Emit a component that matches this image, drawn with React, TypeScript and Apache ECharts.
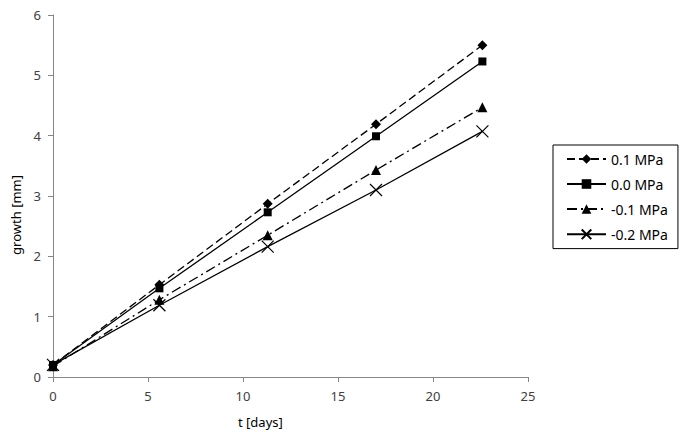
import React, { useEffect, useRef } from "react";
import * as echarts from "echarts";

const days = [0, 5.6, 11.3, 17.0, 22.6];
const seriesNames = ["0.1 MPa", "0.0 MPa", "-0.1 MPa", "-0.2 MPa"];
const growth01 = [0.2, 1.53, 2.87, 4.19, 5.5];
const growth00 = [0.2, 1.47, 2.73, 3.99, 5.23];
const growthM01 = [0.18, 1.28, 2.35, 3.43, 4.47];
const growthM02 = [0.2, 1.19, 2.16, 3.1, 4.07];

const FONT = "'Noto Sans', 'Open Sans', sans-serif";
const TXT = "#404040";
const AX = "#868686";

export default function App() {
  const ref = useRef<HTMLDivElement>(null);
  useEffect(() => {
    if (!ref.current) return;
    const chart = echarts.init(ref.current, null, { renderer: "svg" });
    const pair = (ys: number[]) => days.map((d, i) => [d, ys[i]]);
    const base = {
      type: "line",
      color: "#000",
      showSymbol: true,
      symbolKeepAspect: true,
    };
    chart.setOption({
      animation: false,
      backgroundColor: "#fff",
      textStyle: { fontFamily: FONT },
      grid: { left: 53, right: 157, top: 15, bottom: 64 },
      xAxis: {
        type: "value",
        min: 0,
        max: 25,
        interval: 5,
        axisLine: { show: true, lineStyle: { color: AX, width: 1 } },
        axisTick: { show: true, length: 5, lineStyle: { color: AX } },
        splitLine: { show: false },
        axisLabel: { color: TXT, fontSize: 13, margin: 12, fontFamily: FONT },
      },
      yAxis: {
        type: "value",
        min: 0,
        max: 6,
        interval: 1,
        axisLine: { show: true, lineStyle: { color: AX, width: 1 } },
        axisTick: { show: true, length: 5, lineStyle: { color: AX } },
        splitLine: { show: false },
        axisLabel: { color: TXT, fontSize: 13, margin: 12, fontFamily: FONT },
      },
      legend: {
        orient: "vertical",
        left: 553,
        top: 145,
        padding: [7, 10, 7, 13],
        itemWidth: 39,
        itemHeight: 12,
        itemGap: 11,
        borderColor: "#000",
        borderWidth: 1,
        textStyle: { color: "#000", fontSize: 14, fontFamily: FONT },
        data: seriesNames,
      },
      graphic: [
        {
          type: "text",
          left: 9,
          top: 175,
          rotation: Math.PI / 2,
          style: {
            text: "growth [mm]",
            fill: "#000",
            font: `13px ${FONT}`,
          },
        },
        {
          type: "text",
          left: 238,
          top: 415,
          style: {
            text: "t [days]",
            fill: "#000",
            font: `13px ${FONT}`,
          },
        },
      ],
      series: [
        {
          ...base,
          name: seriesNames[0],
          data: pair(growth01),
          symbol: "diamond",
          symbolSize: 10,
          lineStyle: { color: "#000", width: 1.3, type: [8, 4] },
          itemStyle: { color: "#000" },
        },
        {
          ...base,
          name: seriesNames[1],
          data: pair(growth00),
          symbol: "rect",
          symbolSize: 8,
          lineStyle: { color: "#000", width: 1.3, type: "solid" },
          itemStyle: { color: "#000" },
        },
        {
          ...base,
          name: seriesNames[2],
          data: pair(growthM01),
          symbol: "triangle",
          symbolSize: 10,
          lineStyle: { color: "#000", width: 1.3, type: [10, 4, 2, 4] },
          itemStyle: { color: "#000" },
        },
        {
          ...base,
          name: seriesNames[3],
          data: pair(growthM02),
          symbol: "path://M0,0L10,10M10,0L0,10",
          symbolSize: 12,
          lineStyle: { color: "#000", width: 1.3, type: "solid" },
          itemStyle: { color: "none", borderColor: "#000", borderWidth: 1.2 },
        },
      ],
    });
    return () => chart.dispose();
  }, []);
  return <div ref={ref} style={{ width: 685, height: 441, position: "absolute", left: 0, top: 0 }} />;
}
